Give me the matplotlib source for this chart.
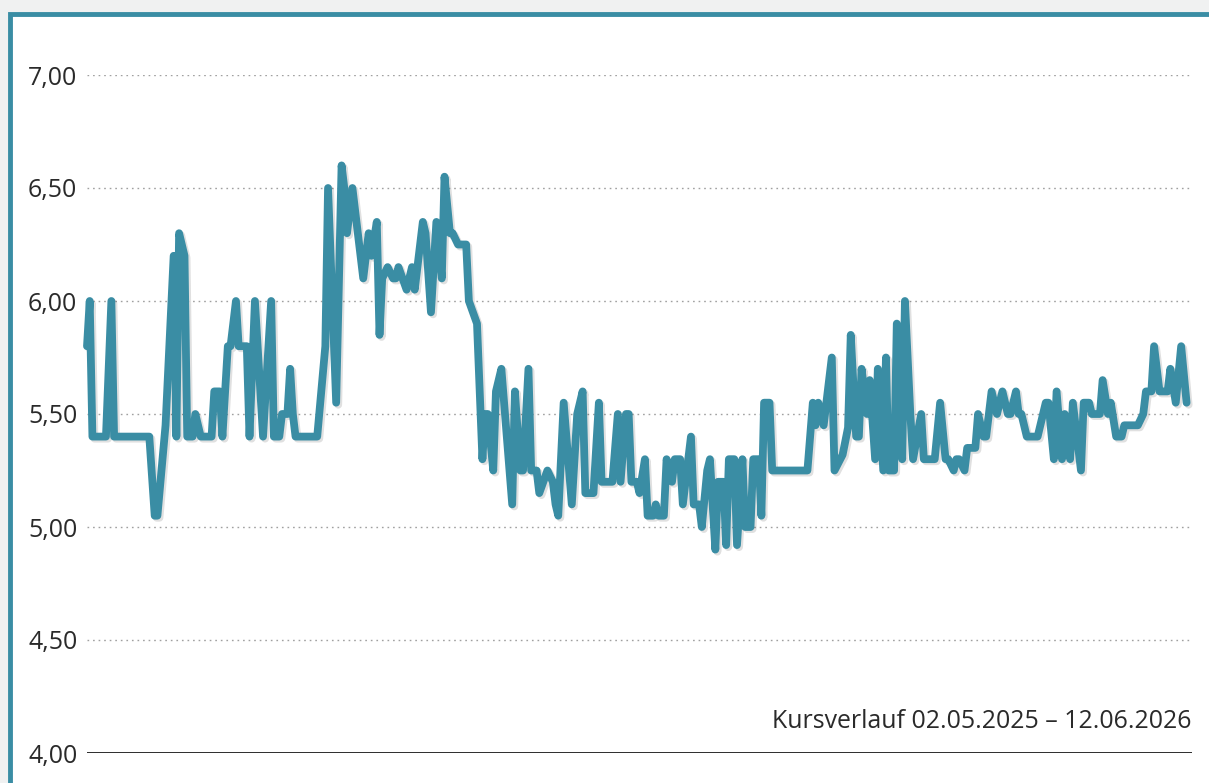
"""Kursverlauf line chart (teal framed box, German decimal ticks)."""
import numpy as np
import matplotlib
matplotlib.use("Agg")
import matplotlib.pyplot as plt
import matplotlib.patheffects as pe
from matplotlib.patches import Rectangle

# --- data: days since start date, closing price ---
start_label = "02.05.2025"
end_label = "12.06.2026"
days = [
    0, 1, 2, 7, 9, 10, 23, 25, 26, 29, 32, 33, 34, 36, 37, 39, 40, 42, 46, 47,
    49, 50, 52, 53, 55, 56, 59, 60, 62, 65, 68, 69, 71, 72, 74, 75, 76, 77, 85, 88,
    89, 92, 94, 95, 96, 98, 102, 104, 105, 107, 108, 109, 111, 113, 114, 115, 118, 120, 121, 124,
    125, 127, 129, 131, 132, 134, 135, 137, 140, 141, 144, 146, 147, 148, 150, 151, 153, 157, 158, 160,
    161, 163, 164, 166, 167, 170, 172, 173, 174, 176, 179, 181, 183, 184, 187, 189, 190, 194, 196, 197,
    199, 200, 201, 203, 204, 206, 207, 209, 210, 211, 213, 214, 216, 217, 219, 220, 223, 224, 226, 227,
    229, 230, 232, 233, 235, 236, 237, 239, 240, 242, 243, 245, 246, 248, 249, 250, 252, 253, 266, 268,
    269, 270, 272, 275, 276, 279, 281, 282, 284, 285, 286, 288, 289, 291, 292, 294, 295, 296, 298, 299,
    301, 302, 304, 305, 308, 309, 313, 315, 317, 318, 320, 321, 322, 324, 325, 328, 329, 331, 332, 334,
    336, 338, 340, 341, 343, 344, 345, 347, 351, 352, 354, 355, 357, 358, 360, 361, 363, 364, 366, 367,
    368, 370, 371, 374, 375, 377, 378, 380, 382, 383, 388, 390, 391, 393, 394, 396, 399, 400, 402, 404,
    406,
]
price = [
    5.80, 6.00, 5.40, 5.40, 6.00, 5.40, 5.40, 5.05, 5.05, 5.45, 6.20, 5.40, 6.30, 6.20, 5.40, 5.40, 5.50, 5.40, 5.40, 5.60,
    5.60, 5.40, 5.80, 5.80, 6.00, 5.80, 5.80, 5.40, 6.00, 5.40, 6.00, 5.40, 5.40, 5.50, 5.50, 5.70, 5.50, 5.40, 5.40, 5.80,
    6.50, 5.55, 6.60, 6.50, 6.30, 6.50, 6.10, 6.30, 6.20, 6.35, 5.85, 6.10, 6.15, 6.10, 6.10, 6.15, 6.05, 6.15, 6.05, 6.35,
    6.30, 5.95, 6.35, 6.10, 6.55, 6.30, 6.30, 6.25, 6.25, 6.00, 5.90, 5.30, 5.50, 5.50, 5.25, 5.60, 5.70, 5.10, 5.60, 5.25,
    5.25, 5.70, 5.25, 5.25, 5.15, 5.25, 5.20, 5.10, 5.05, 5.55, 5.10, 5.50, 5.60, 5.15, 5.15, 5.55, 5.20, 5.20, 5.50, 5.20,
    5.50, 5.50, 5.20, 5.20, 5.15, 5.30, 5.05, 5.05, 5.10, 5.05, 5.05, 5.30, 5.20, 5.30, 5.30, 5.10, 5.40, 5.10, 5.10, 5.00,
    5.25, 5.30, 4.90, 5.20, 5.20, 4.92, 5.30, 5.30, 4.92, 5.30, 5.00, 5.00, 5.30, 5.30, 5.05, 5.55, 5.55, 5.25, 5.25, 5.55,
    5.45, 5.55, 5.45, 5.75, 5.25, 5.32, 5.44, 5.85, 5.40, 5.40, 5.70, 5.50, 5.65, 5.30, 5.70, 5.25, 5.75, 5.25, 5.25, 5.90,
    5.30, 6.00, 5.50, 5.30, 5.50, 5.30, 5.30, 5.55, 5.30, 5.30, 5.25, 5.30, 5.30, 5.25, 5.35, 5.35, 5.50, 5.40, 5.40, 5.60,
    5.50, 5.60, 5.50, 5.50, 5.60, 5.50, 5.50, 5.40, 5.40, 5.45, 5.55, 5.55, 5.30, 5.60, 5.30, 5.50, 5.30, 5.55, 5.35, 5.25,
    5.55, 5.55, 5.50, 5.50, 5.65, 5.50, 5.55, 5.40, 5.40, 5.45, 5.45, 5.50, 5.60, 5.60, 5.80, 5.60, 5.60, 5.70, 5.55, 5.80,
    5.55,
]
yticks = [4.0, 4.5, 5.0, 5.5, 6.0, 6.5, 7.0]

TEAL = "#3a8da4"
W, H = 1209, 783

fig = plt.figure(figsize=(W / 100, H / 100), dpi=100, facecolor="#f0f1f1")
# white card with teal top/left border
fig.patches.append(Rectangle((10 / W, -0.1), 1.2, (H - 14) / H + 0.1,
                             transform=fig.transFigure, facecolor="white",
                             edgecolor=TEAL, lw=3.5, zorder=-5))

ax = fig.add_axes([87 / W, (H - 753) / H, (1192 - 87) / W, (753 - 75) / H])
ax.set_zorder(2)
ax.set_facecolor("none")
ax.set_xlim(0, 408)
ax.set_ylim(4.0, 7.0)

for y in yticks[1:]:
    ax.axhline(y, color="#a0a0a0", lw=1.0, ls=(0, (1.2, 2.8)), zorder=1)
ax.axhline(yticks[0], color="#1a1a1a", lw=2.0, zorder=1)

ax.plot(days, price, color=TEAL, lw=5.6, solid_joinstyle="round",
        solid_capstyle="round", zorder=3, clip_on=False,
        path_effects=[pe.SimpleLineShadow(offset=(1.5, -1.5), shadow_color="#000000",
                                          alpha=0.12), pe.Normal()])

ax.set_yticks(yticks)
ax.set_yticklabels([f"{t:.2f}".replace(".", ",") for t in yticks],
                   fontsize=18, color="#2a2a2a", family="Open Sans")
ax.tick_params(axis="y", length=0, pad=7)
ax.set_xticks([])
for s in ax.spines.values():
    s.set_visible(False)

ax.text(1.0, 0.046, f"Kursverlauf {start_label} – {end_label}", transform=ax.transAxes,
        ha="right", va="center", fontsize=17.9, color="#2a2a2a", family="Open Sans")

fig.savefig("out.png", dpi=100, facecolor=fig.get_facecolor())
